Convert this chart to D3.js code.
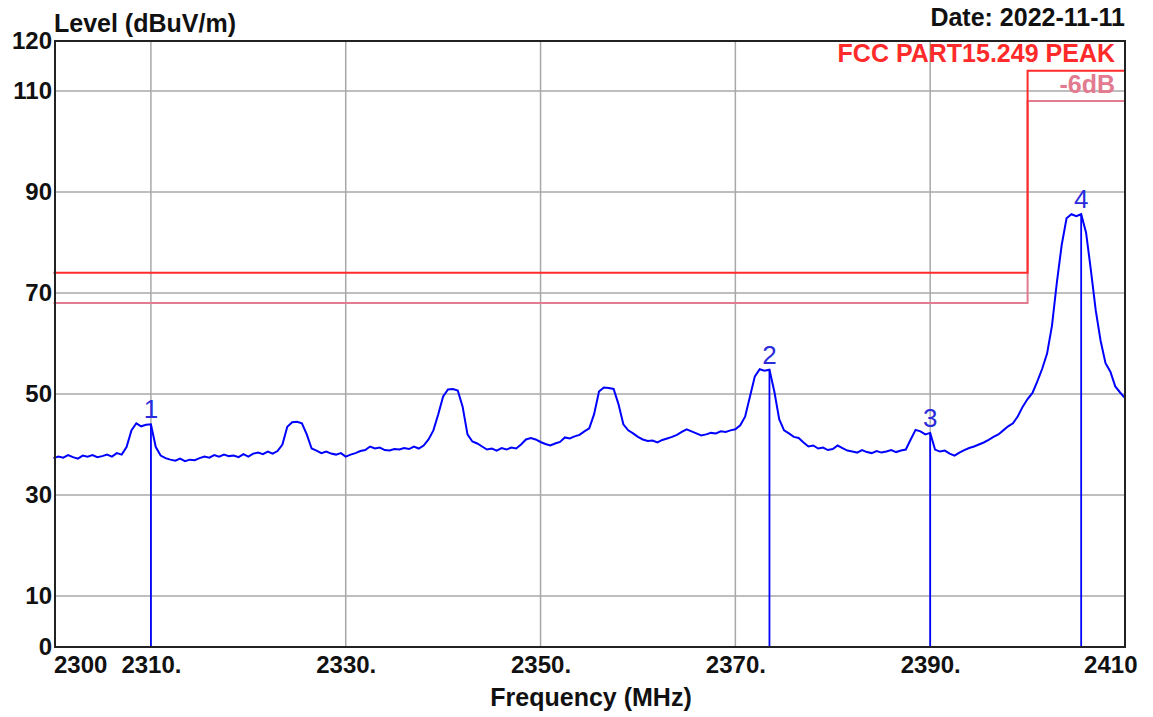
<!DOCTYPE html>
<html><head><meta charset="utf-8">
<script src="https://cdn.jsdelivr.net/npm/d3@7"></script>
<style>body{margin:0;background:#fff}svg{display:block;font-family:Arial,"Liberation Sans",sans-serif}</style>
</head><body><svg id="c" width="1153" height="717"></svg>
<script>
// ---- data ----
const startFreq = 2300, stepFreq = 0.5;
const levels = [
 37.3,37.6,37.4,37.9,37.5,37.2,37.8,37.6,37.9,37.5,
 37.7,38.0,37.6,38.3,38.0,39.5,42.8,44.2,43.6,43.9,
 44.0,39.5,37.8,37.3,37.0,36.8,37.2,36.7,37.0,36.9,
 37.3,37.6,37.4,37.9,37.6,38.0,37.7,37.8,37.5,38.1,
 37.6,38.2,38.4,38.1,38.6,38.2,38.7,40.0,43.5,44.4,
 44.5,44.2,42.0,39.2,38.8,38.3,38.6,38.2,38.0,38.3,
 37.6,38.0,38.3,38.7,38.9,39.6,39.2,39.4,38.9,38.8,
 39.1,39.0,39.3,39.1,39.6,39.2,39.8,41.0,42.8,46.0,
 49.5,50.9,51.0,50.7,47.5,42.0,40.6,40.2,39.6,39.0,
 39.2,38.8,39.3,39.0,39.4,39.2,40.0,41.0,41.3,41.0,
 40.5,40.1,39.8,40.2,40.5,41.4,41.2,41.6,41.9,42.6,
 43.2,46.0,50.5,51.3,51.2,51.0,48.0,44.0,42.8,42.2,
 41.5,41.0,40.7,40.8,40.4,40.9,41.2,41.5,41.9,42.5,
 43.0,42.6,42.2,41.8,42.0,42.3,42.2,42.6,42.5,42.8,
 43.0,43.8,45.5,49.5,53.5,54.9,54.6,54.8,50.5,45.0,
 42.8,42.2,41.5,41.3,40.4,39.6,39.8,39.2,39.4,38.9,
 39.1,39.8,39.3,38.8,38.6,38.4,38.9,38.5,38.3,38.7,
 38.4,38.6,38.9,38.5,38.8,39.0,41.0,42.9,42.6,42.0,
 42.3,39.0,38.6,38.8,38.2,37.8,38.4,38.9,39.3,39.6,
 40.0,40.4,40.9,41.5,42.0,42.8,43.6,44.2,45.6,47.5,
 49.0,50.2,52.5,55.0,58.0,63.5,72.0,79.5,84.8,85.6,
 85.2,85.6,82.0,74.5,66.5,60.5,56.1,54.4,51.5,50.3,
 49.2
];
const markerFreqs  = [2310.0, 2373.5, 2390.0, 2405.5];
const markerLevels = [44.0, 54.8, 42.3, 85.6];
const markerLabels = ["1", "2", "3", "4"];
const limitFreqs   = [2300, 2400, 2400, 2410];
const limitLevels  = [74, 74, 114, 114];
const marginLevels = [68, 68, 108, 108];
const yTickValues  = [0, 10, 30, 50, 70, 90, 110, 120];
const yGridValues  = [10, 30, 50, 70, 90, 110];
const xGridValues  = [2310, 2330, 2350, 2370, 2390];
const xTickValues  = [2300, 2310, 2330, 2350, 2370, 2390, 2410];
const xTickText    = ["2300", "2310.", "2330.", "2350.", "2370.", "2390.", "2410"];
const titleY = "Level (dBuV/m)", titleX = "Frequency (MHz)", dateText = "Date: 2022-11-11";
const limitName = "FCC PART15.249 PEAK", marginName = "-6dB";

// ---- drawing ----
const svg = d3.select("#c");
const L = 55, R = 1125, T = 41, B = 647;
const x = d3.scaleLinear().domain([2300, 2410]).range([53.5, 1125]);
const y = d3.scaleLinear().domain([0, 120]).range([646.5, 40.5]);
const RED = "#ff2a2a", PINK = "#e27a90", BLUE = "#0000ff", GRID = "#a8a8a8";
const FONT = "Arial, 'Liberation Sans', sans-serif";

svg.append("rect").attr("width", 1153).attr("height", 717).attr("fill", "#fff");

// grid
svg.append("g").selectAll("line").data(yGridValues).join("line")
  .attr("x1", L).attr("x2", R).attr("y1", d => y(d)).attr("y2", d => y(d))
  .attr("stroke", GRID).attr("stroke-width", 1.5);
svg.append("g").selectAll("line").data(xGridValues).join("line")
  .attr("y1", T).attr("y2", B).attr("x1", d => x(d)).attr("x2", d => x(d))
  .attr("stroke", GRID).attr("stroke-width", 1.5);

// limit lines
const limLine = d3.line().x(d => x(d[0])).y(d => y(d[1]));
svg.append("path").datum(limitFreqs.map((f, i) => [f, marginLevels[i]]))
  .attr("d", limLine).attr("fill", "none").attr("stroke", PINK).attr("stroke-width", 2);
svg.append("path").datum(limitFreqs.map((f, i) => [f, limitLevels[i]]))
  .attr("d", limLine).attr("fill", "none").attr("stroke", RED).attr("stroke-width", 2);

// trace
const data = levels.map((v, i) => [startFreq + i * stepFreq, v]);
svg.append("path").datum(data)
  .attr("d", d3.line().x(d => x(d[0])).y(d => y(d[1])))
  .attr("fill", "none").attr("stroke", BLUE).attr("stroke-width", 2)
  .attr("stroke-linejoin", "miter");

// markers
const mk = markerFreqs.map((f, i) => ({f, v: markerLevels[i], t: markerLabels[i]}));
svg.append("g").selectAll("line").data(mk).join("line")
  .attr("x1", d => x(d.f)).attr("x2", d => x(d.f))
  .attr("y1", d => y(d.v)).attr("y2", y(0))
  .attr("stroke", BLUE).attr("stroke-width", 1.8);
svg.append("g").selectAll("text").data(mk).join("text")
  .attr("x", d => x(d.f)).attr("y", d => y(d.v) - 6)
  .attr("text-anchor", "middle").attr("font-size", 26)
  .attr("fill", "#2b2bdc").text(d => d.t);

// frame
svg.append("rect").attr("x", L).attr("y", T).attr("width", R - L).attr("height", B - T)
  .attr("fill", "none").attr("stroke", "#222").attr("stroke-width", 2);

// axes
const yAxis = svg.append("g").attr("transform", `translate(${L},0)`)
  .call(d3.axisLeft(y).tickValues(yTickValues).tickFormat(d3.format("d")).tickSize(0).tickPadding(3));
yAxis.select(".domain").remove();
yAxis.selectAll("text").attr("font-size", 24).attr("font-weight", "bold")
  .attr("font-family", FONT).attr("fill", "#111");

const xAxis = svg.append("g").attr("transform", `translate(0,${B})`)
  .call(d3.axisBottom(x).tickValues(xTickValues).tickFormat((d, i) => xTickText[i]).tickSize(0).tickPadding(9));
xAxis.select(".domain").remove();
xAxis.selectAll("text").attr("font-size", 24).attr("font-weight", "bold")
  .attr("font-family", FONT).attr("fill", "#111")
  .attr("text-anchor", (d, i) => i === 0 ? "start" : (i === xTickValues.length - 1 ? "end" : "middle"))
  .attr("dx", (d, i) => i === xTickValues.length - 1 ? 12 : 0);

// titles
svg.append("text").attr("x", 54).attr("y", 32).attr("font-size", 25).attr("font-weight", "bold")
  .attr("fill", "#111").text(titleY);
svg.append("text").attr("x", 591).attr("y", 706).attr("text-anchor", "middle")
  .attr("font-size", 25).attr("font-weight", "bold").attr("fill", "#111").text(titleX);
svg.append("text").attr("x", 1125).attr("y", 26).attr("text-anchor", "end")
  .attr("font-size", 25).attr("font-weight", "bold").attr("fill", "#111").text(dateText);
svg.append("text").attr("x", 1115).attr("y", 62).attr("text-anchor", "end")
  .attr("font-size", 25).attr("font-weight", "bold").attr("fill", RED).text(limitName);
svg.append("text").attr("x", 1115).attr("y", 93).attr("text-anchor", "end")
  .attr("font-size", 25).attr("font-weight", "bold").attr("fill", PINK).text(marginName);
</script></body></html>
